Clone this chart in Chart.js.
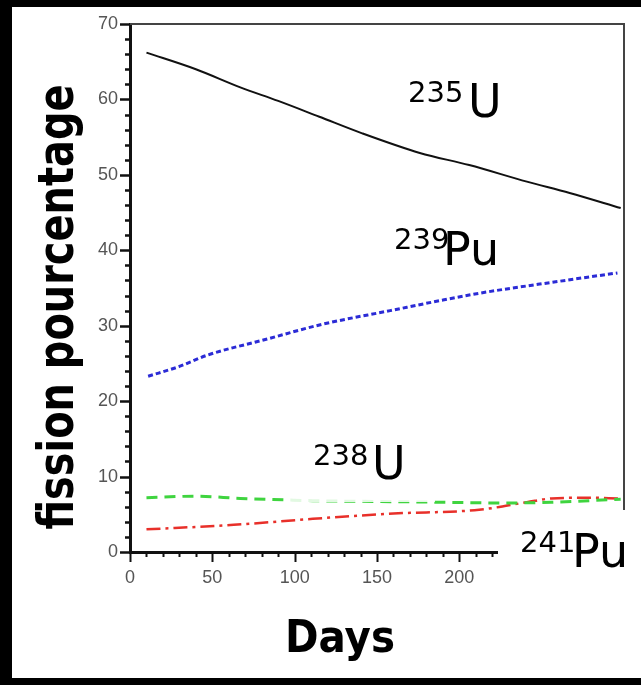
<!DOCTYPE html>
<html lang="en">
<head>
  <meta charset="UTF-8">
  <title>fission pourcentage</title>
  <script src="https://cdn.jsdelivr.net/npm/chart.js"></script>
  <style>
    html, body { margin: 0; padding: 0; background: #000; overflow: hidden; }
    #panel { position: absolute; left: 12px; top: 7px; width: 629px; height: 671px; background: #fff; }
    #graph { position: absolute; left: 0; top: 0; display: block; }
  </style>
</head>
<body>
  <div id="panel"></div>
  <canvas id="graph" width="641" height="685"></canvas>

  <script>
    // Datos (días, porcentaje de fisión)
    const daysU235 = [10, 40, 67, 90, 115, 141, 176, 206, 241, 267, 298];
    const u235     = [66.2, 64.0, 61.6, 59.8, 57.7, 55.5, 52.9, 51.3, 49.1, 47.6, 45.6];

    const daysPu239 = [11, 30, 47, 81, 117, 158, 190, 212, 261, 296];
    const pu239     = [23.3, 24.6, 26.1, 28.1, 30.2, 32.0, 33.4, 34.3, 35.9, 37.0];

    const daysU238 = [10, 40, 67, 95, 111, 150, 188, 228, 256, 298];
    const u238     = [7.2, 7.4, 7.1, 6.9, 6.8, 6.7, 6.6, 6.5, 6.6, 7.0];

    const daysPu241 = [10, 63, 111, 160, 212, 241, 256, 277, 298];
    const pu241     = [3.0, 3.6, 4.4, 5.1, 5.6, 6.6, 7.1, 7.2, 7.1];

    const xTicks = [0, 50, 100, 150, 200, 250, 300];
    const yTicks = [0, 10, 20, 30, 40, 50, 60, 70];

    const isotopes = ["235U", "239Pu", "238U", "241Pu"];

    function toPoints(xs, ys) {
      return xs.map((x, i) => ({ x: x, y: ys[i] }));
    }

    // Marcas menores, bordes, etiquetas y títulos
    const decorPlugin = {
      id: "decor",
      afterDatasetsDraw(chart) {
        const c = chart.ctx;
        const area = chart.chartArea;
        const xs = chart.scales.x;
        const ys = chart.scales.y;
        c.save();

        // borde superior y derecho
        c.strokeStyle = "#444";
        c.lineWidth = 2;
        c.beginPath();
        c.moveTo(area.left, area.top);
        c.lineTo(area.right, area.top);
        c.lineTo(area.right, area.bottom);
        c.stroke();

        // marcas del eje y
        c.strokeStyle = "#111";
        c.lineWidth = 2.5;
        for (let v = 0; v <= 70; v += 2) {
          const y = Math.round(ys.getPixelForValue(v)) + 0.5;
          const len = v % 10 === 0 ? 10 : 5;
          c.beginPath();
          c.moveTo(area.left, y);
          c.lineTo(area.left - len, y);
          c.stroke();
        }
        // marcas del eje x
        c.lineWidth = 2;
        for (let d = 0; d <= 300; d += 10) {
          const x = Math.round(xs.getPixelForValue(d)) + 0.5;
          const len = d % 50 === 0 ? 10 : 5;
          c.beginPath();
          c.moveTo(x, area.bottom);
          c.lineTo(x, area.bottom + len);
          c.stroke();
        }

        // recuadro semitransparente de 238U
        c.fillStyle = "rgba(255,255,255,0.85)";
        c.fillRect(290, 422, 145, 80);

        // recuadro blanco de 241Pu (tapa el eje)
        c.fillStyle = "#fff";
        c.fillRect(498, 510, 143, 90);

        // etiquetas de isótopos
        const labelPos = [
          { supX: 408, supBase: 102, mainX: 468, mainBase: 117 },
          { supX: 394, supBase: 249, mainX: 443, mainBase: 265 },
          { supX: 313, supBase: 465, mainX: 372, mainBase: 479 },
          { supX: 520, supBase: 552, mainX: 572, mainBase: 567 }
        ];
        c.fillStyle = "#000";
        c.textBaseline = "alphabetic";
        c.textAlign = "left";
        isotopes.forEach((lab, i) => {
          const m = lab.match(/^(\d+)(.+)$/);
          const p = labelPos[i];
          c.font = "29px 'DejaVu Sans'";
          c.fillText(m[1], p.supX, p.supBase);
          c.font = "46px 'DejaVu Sans'";
          c.fillText(m[2], p.mainX, p.mainBase);
        });

        // título eje y
        c.font = "bold 50px 'DejaVu Sans'";
        const yTitle = "fission pourcentage";
        const wy = c.measureText(yTitle).width;
        c.translate(73, 307);
        c.rotate(-Math.PI / 2);
        c.scale(445 / wy, 1);
        c.textAlign = "center";
        c.fillText(yTitle, 0, 0);
        c.setTransform(1, 0, 0, 1, 0, 0);

        // título eje x
        c.font = "bold 44px 'DejaVu Sans'";
        const xTitle = "Days";
        const wx = c.measureText(xTitle).width;
        c.translate(340, 652);
        c.scale(110 / wx, 1);
        c.textAlign = "center";
        c.fillText(xTitle, 0, 0);
        c.restore();
      }
    };

    const ctx = document.getElementById("graph").getContext("2d");
    const chart = new Chart(ctx, {
      type: "line",
      data: {
        datasets: [
          {
            label: "235U",
            data: toPoints(daysU235, u235),
            borderColor: "#111",
            borderWidth: 2,
          },
          {
            label: "239Pu",
            data: toPoints(daysPu239, pu239),
            borderColor: "#2b2bd6",
            borderWidth: 3,
            borderDash: [5, 3],
          },
          {
            label: "238U",
            data: toPoints(daysU238, u238),
            borderColor: "#3fd43f",
            borderWidth: 3,
            borderDash: [11, 7],
          },
          {
            label: "241Pu",
            data: toPoints(daysPu241, pu241),
            borderColor: "#e8302a",
            borderWidth: 2.5,
            borderDash: [14, 5, 3, 5],
          },
        ],
      },
      options: {
        responsive: false,
        animation: false,
        devicePixelRatio: 1,
        elements: {
          point: { radius: 0 },
          line: { tension: 0.4, cubicInterpolationMode: "monotone", fill: false },
        },
        layout: { padding: { top: 24, right: 17, left: 0, bottom: 0 } },
        plugins: {
          legend: { display: false },
          tooltip: { enabled: false },
        },
        scales: {
          x: {
            type: "linear",
            min: 0,
            max: 300,
            afterBuildTicks(scale) {
              scale.ticks = xTicks.map(v => ({ value: v }));
            },
            afterFit(scale) {
              scale.height = 133;
              scale.paddingLeft = 0;
              scale.paddingRight = 0;
            },
            grid: { drawOnChartArea: false, color: "transparent", tickLength: 10 },
            border: { display: true, color: "#111", width: 3 },
            ticks: {
              color: "#555",
              font: { family: "'Liberation Sans'", size: 18 },
              padding: 5,
              maxRotation: 0,
            },
          },
          y: {
            min: 0,
            max: 70,
            afterBuildTicks(scale) {
              scale.ticks = yTicks.map(v => ({ value: v }));
            },
            afterFit(scale) {
              scale.width = 130;
              scale.paddingTop = 0;
              scale.paddingBottom = 0;
            },
            grid: { drawOnChartArea: false, color: "transparent", tickLength: 10 },
            border: { display: true, color: "#111", width: 3 },
            ticks: {
              color: "#555",
              font: { family: "'Liberation Sans'", size: 18 },
              padding: 2,
            },
          },
        },
      },
      plugins: [decorPlugin],
    });
  </script>
</body>
</html>
